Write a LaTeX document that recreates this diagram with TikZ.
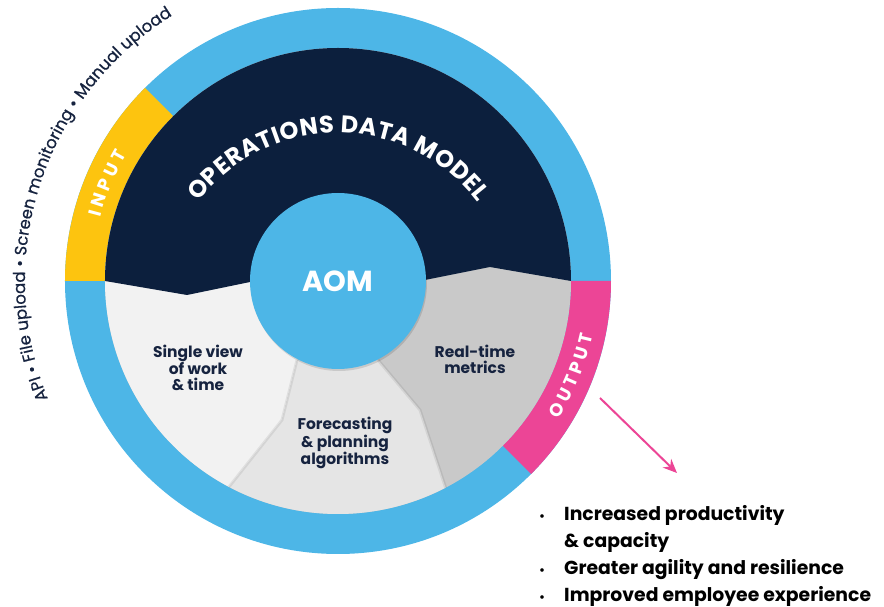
\documentclass[tikz,border=0pt]{standalone}
\usepackage{fontspec}
\setmainfont{Poppins}
\newfontfamily\mediumfont{Poppins}[FakeBold=0.6]
\usetikzlibrary{decorations.text,arrows.meta}
\definecolor{ringblue}{HTML}{4DB6E7}
\definecolor{inputyellow}{HTML}{FDC40F}
\definecolor{outputpink}{HTML}{EC4596}
\definecolor{navy}{HTML}{0C1F3D}
\definecolor{greyleft}{HTML}{F2F2F2}
\definecolor{greymid}{HTML}{E5E5E5}
\definecolor{greyright}{HTML}{C9C9C9}
\definecolor{textnavy}{HTML}{16233F}
\newcommand\ponto{{\fontsize{12}{12}\selectfont\textbullet}}
\begin{document}
\begin{tikzpicture}[
        x=1pt, y=1pt,
        rotulo/.style={text=textnavy, font=\bfseries\fontsize{15.5}{16}\selectfont, align=center},
        arco/.style={decorate, decoration={text along path, text align=center, text color=#1}},
        sombra/.style={black, opacity=0.07, line width=3pt},
        seta/.style={outputpink, line width=2pt, -{Stealth[length=14pt,width=12pt]}},
    ]
    \useasboundingbox (-338,-326) rectangle (546,281);
    \fill[ringblue] (0,0) circle[radius=273pt];
    \fill[inputyellow] (135:273pt) arc[start angle=135, end angle=180, radius=273pt]
        -- (180:233pt) arc[start angle=180, end angle=135, radius=233pt] -- cycle;
    \fill[outputpink] (-45:273pt) arc[start angle=-45, end angle=0, radius=273pt]
        -- (0:233pt) arc[start angle=0, end angle=-45, radius=233pt] -- cycle;
    \fill[greyright] (0,0) circle[radius=233pt];
    \fill[greyleft] (180:233pt) arc[start angle=180, end angle=242.1, radius=233pt]
        -- (-56,-139) -- (-41,-79) -- (0,0) -- cycle;
    \fill[greymid] (242.1:233pt) arc[start angle=242.1, end angle=297.5, radius=233pt]
        -- (82,-129) -- (40,-79) -- (0,0) -- (-41,-79) -- (-56,-139) -- cycle;
    \draw[sombra] (242.1:233pt) -- (-56,-139) -- (-41,-79);
    \draw[sombra] (297.5:233pt) -- (82,-129) -- (40,-79);
    \fill[navy] (0:233pt) arc[start angle=0, end angle=180, radius=233pt]
        -- (-151,-14) -- (-88,-1) -- (87,1) -- (152,14) -- cycle;
    \fill[black, opacity=0.12] (1,-2) circle[radius=88pt];
    \node[circle, fill=ringblue, minimum size=176pt, inner sep=0pt, text=white,
        font=\bfseries\fontsize{29}{29}\selectfont] (aom) at (0,0) {AOM};

    \path[arco=white, shift={(0,-28)},
        decoration={text={|\bfseries\fontsize{24}{24}\selectfont\kern0.5pt|OPERATIONS DATA MODEL}}]
        (170:176pt) arc[start angle=170, end angle=10, radius=176pt];
    \path[arco=white, decoration={text={|\bfseries\fontsize{18}{18}\selectfont\kern4pt|INPUT}}]
        (177:246pt) arc[start angle=177, end angle=138, radius=246pt];
    \path[arco=white, decoration={text={|\bfseries\fontsize{18}{18}\selectfont\kern4pt|OUTPUT}}]
        (-42:260pt) arc[start angle=-42, end angle=-3, radius=260pt];
    \path[arco=textnavy, decoration={text={|\mediumfont\fontsize{16.5}{16.5}\selectfont|API • File upload • Screen monitoring • Manual upload}}]
        (225:313pt) arc[start angle=225, end angle=99, radius=313pt];

    \node[rotulo] (single) at (-140,-87) {Single view\\of work\\\& time};
    \node[rotulo] (forecast) at (7,-162) {Forecasting\\\& planning\\algorithms};
    \node[rotulo] (realtime) at (137,-78) {Real-time\\metrics};

    \coordinate (outtail) at (262,-117);
    \coordinate (outhead) at (339,-192);
    \draw[seta] (outtail) -- (outhead);

    \node[anchor=base west, inner sep=0pt, text=black, font=\bfseries\fontsize{18.8}{27}\selectfont] (results) at (201,-240) {%
        \begin{tabular}[t]{@{}l@{\hspace{19pt}}l@{}}
            \ponto & Increased productivity\\
                   & \& capacity\\
            \ponto & Greater agility and resilience\\
            \ponto & Improved employee experience
        \end{tabular}};
\end{tikzpicture}
\end{document}
